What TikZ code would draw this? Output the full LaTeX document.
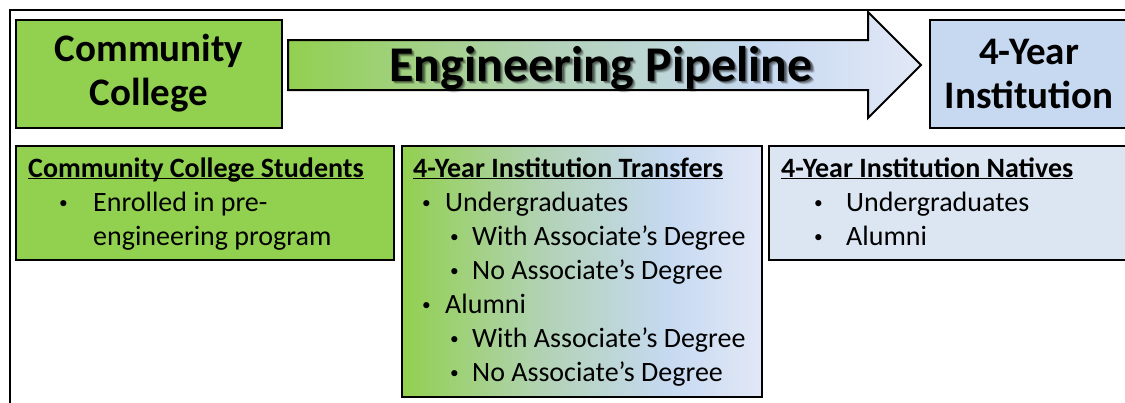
\documentclass[tikz,border=0pt]{standalone}
\usepackage{fontspec}
\setmainfont{Carlito}
\usetikzlibrary{positioning}
\definecolor{ccgreen}{RGB}{146,208,80}
\definecolor{midtone}{RGB}{178,210,182}
\definecolor{uniblue}{RGB}{198,217,241}
\definecolor{paleblue}{RGB}{220,230,242}
\definecolor{tipblue}{RGB}{226,232,246}

% green-to-blue fade shared by the arrow and the transfer group
\pgfdeclarehorizontalshading{pipefade}{100bp}{color(0bp)=(ccgreen); color(25bp)=(ccgreen); color(45bp)=(midtone); color(62bp)=(uniblue); color(75bp)=(tipblue); color(100bp)=(tipblue)}

\tikzset{
  stagebox/.style={draw=black, line width=2pt, inner sep=0pt, align=center,
    font=\bfseries\fontsize{39}{44}\selectfont},
  groupbox/.style={draw=black, line width=2pt, inner sep=0pt},
  grouptext/.style={anchor=base west, inner sep=0pt, align=left,
    font=\fontsize{28}{34}\selectfont},
  pipetext/.style={font=\bfseries\fontsize{50}{60}\selectfont, anchor=base, inner sep=0pt},
}
\newcommand{\grouphead}[1]{\textbf{\underline{\smash{#1}}}}
\newcommand{\bulletat}[2]{\hspace*{#1}\makebox[#2][l]{\raisebox{2.5pt}{\scalebox{0.62}{\textbullet}}}}

\begin{document}
\begin{tikzpicture}[x=1pt, y=-1pt]
\useasboundingbox (0,0) rectangle (1125,402);
\clip (0,0) rectangle (1125,402);

% frame
\draw[line width=2.2pt] (10,420) |- (1140,10);

% the two stages
\node[stagebox, fill=ccgreen, minimum width=266pt, minimum height=108pt] (cc) at (149,73.5) {Community\\College};
\node[stagebox, fill=uniblue, minimum width=198pt, minimum height=108pt] (uni) at (1029,73.5) {4-Year\\Institution};

% pipeline arrow
\shadedraw[shading=pipefade, draw=black, line width=2pt]
  (288,40) -- (868,40) -- (868,12) -- (921,65) -- (868,118) -- (868,90) -- (288,90) -- cycle;
\foreach \d/\op in {3.5/0.15, 2.5/0.25, 1.5/0.3}
  \node[pipetext, text=black, opacity=\op] at (601+\d,81+\d) {Engineering Pipeline};
\node[pipetext] (pipe) at (601,81) {Engineering Pipeline};

% student groups (text nodes sit on the baseline of their last line)
\node[groupbox, fill=ccgreen, minimum width=378pt, minimum height=114pt] (ccstud) at (205,203) {};
\node[groupbox, shading=pipefade, minimum width=360pt, minimum height=251pt] (transfer) at (582,271.5) {};
\node[groupbox, fill=paleblue, minimum width=359pt, minimum height=114pt] (native) at (948.5,203) {};

\node[grouptext] (ccstudtext) at (28,245) {\grouphead{Community College Students}\\
  \bulletat{31pt}{34pt}Enrolled in pre-\\
  \hspace*{65pt}engineering program};

\node[grouptext] (transfertext) at (413,381) {\grouphead{4-Year Institution Transfers}\\
  \bulletat{9pt}{23pt}Undergraduates\\
  \bulletat{37pt}{22pt}With Associate’s Degree\\
  \bulletat{37pt}{22pt}No Associate’s Degree\\
  \bulletat{9pt}{23pt}Alumni\\
  \bulletat{37pt}{22pt}With Associate’s Degree\\
  \bulletat{37pt}{22pt}No Associate’s Degree};

\node[grouptext] (nativetext) at (781,245) {\grouphead{4-Year Institution Natives}\\
  \bulletat{33pt}{32pt}Undergraduates\\
  \bulletat{33pt}{32pt}Alumni};
\end{tikzpicture}
\end{document}
